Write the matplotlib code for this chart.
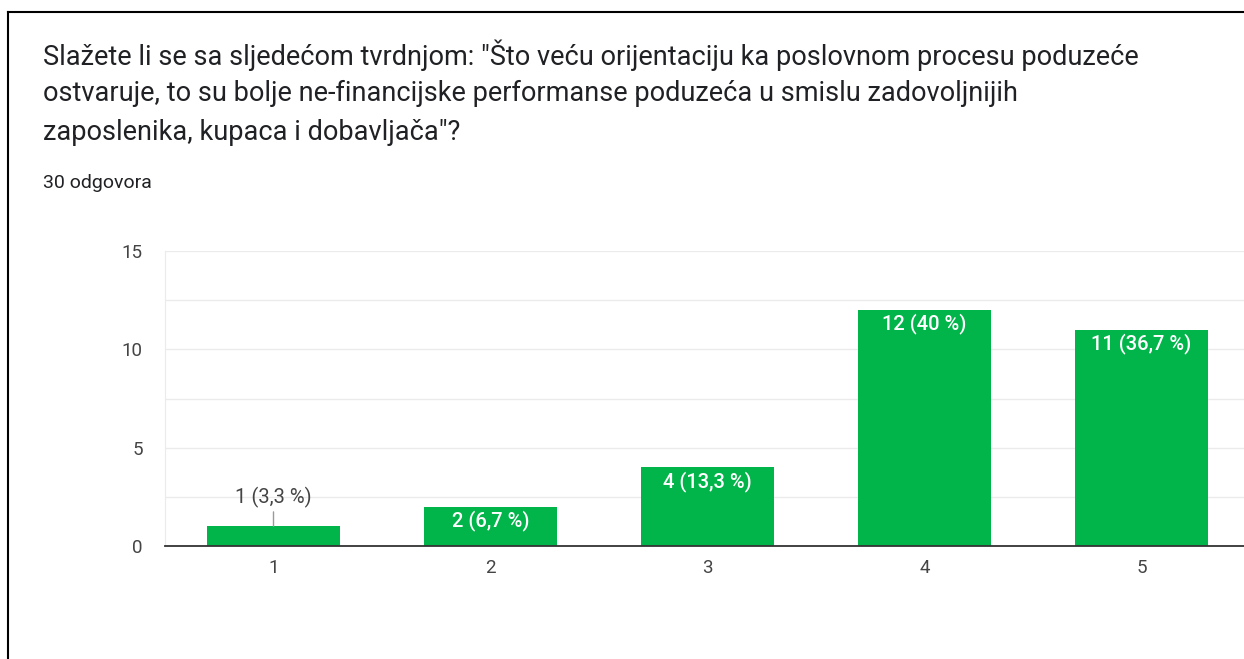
import matplotlib.pyplot as plt
from matplotlib.lines import Line2D

title_lines = [
    'Slažete li se sa sljedećom tvrdnjom: "Što veću orijentaciju ka poslovnom procesu poduzeće',
    'ostvaruje, to su bolje ne-financijske performanse poduzeća u smislu zadovoljnijih',
    'zaposlenika, kupaca i dobavljača"?',
]
subtitle = '30 odgovora'
categories = ['1', '2', '3', '4', '5']
counts = [1, 2, 4, 12, 11]
total = 30

green = '#02b54a'
text_dark = '#202124'
tick_gray = '#444444'

plt.rcParams['font.family'] = ['Roboto', 'DejaVu Sans']

fig = plt.figure(figsize=(12.44, 6.59), dpi=100)
W, H = 1244, 659

# border of the screenshot frame (left and top only)
fig.add_artist(Line2D([8 / W, 8 / W], [0, 1 - 12 / H], color='black', lw=1.5, transform=fig.transFigure))
fig.add_artist(Line2D([8 / W, 1], [1 - 12 / H, 1 - 12 / H], color='black', lw=1.5, transform=fig.transFigure))

for i, line in enumerate(title_lines):
    fig.text(43 / W, 1 - (55 + i * 38.5) / H, line, fontsize=19.5, color=text_dark, va='center', ha='left')
fig.text(43 / W, 1 - 183 / H, subtitle, fontsize=14, color=text_dark, va='center', ha='left')

# axes: left 165px, right 1250px (cropped), top 251, bottom 546
ax = fig.add_axes([165 / W, 1 - 546 / H, (1250 - 165) / W, (546 - 251) / H])
x = range(len(categories))
bars = ax.bar(x, counts, width=0.617, color=green, zorder=3)
ax.set_xlim(-0.5, len(categories) - 0.5)
ax.set_ylim(0, 15)
ax.set_yticks([0, 5, 10, 15])
ax.set_yticks([2.5, 7.5, 12.5], minor=True)
ax.set_xticks(list(x))
ax.set_xticklabels(categories)
ax.tick_params(axis='both', which='both', length=0, labelsize=13.5, labelcolor=tick_gray)
ax.tick_params(axis='y', pad=16)
ax.tick_params(axis='x', pad=9.5)
ax.grid(axis='y', which='both', color='#ebebeb', lw=1, zorder=0)
for s in ['top', 'right']:
    ax.spines[s].set_visible(False)
ax.spines['left'].set_color('#ebebeb')
ax.spines['bottom'].set_color('#333333')
ax.spines['bottom'].set_linewidth(1.3)
ax.spines['bottom'].set_zorder(4)

for i, v in enumerate(counts):
    pct = round(v / total * 100, 1)
    pct_s = ('%g' % pct).replace('.', ',')
    label = f'{v} ({pct_s} %)'
    if v >= 2:
        ax.annotate(label, (i, v), xytext=(0, -10), textcoords='offset points',
                    ha='center', va='center', color='white', fontsize=14.5, fontweight='medium', zorder=5)
    else:
        ax.annotate(label, (i, v), xytext=(0, 21), textcoords='offset points',
                    ha='center', va='center', color=tick_gray, fontsize=14.5, zorder=5,
                    arrowprops=dict(arrowstyle='-', color='#9a9a9a', lw=1, shrinkA=1, shrinkB=0))

fig.savefig('out.png', dpi=100)
